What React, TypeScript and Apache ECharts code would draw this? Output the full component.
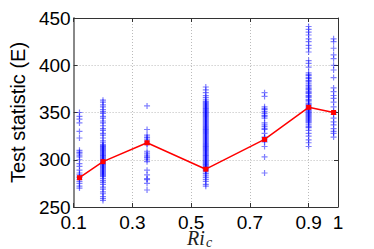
import React, { useEffect, useRef } from "react";
import * as echarts from "echarts";

const columnX = [0.12, 0.2, 0.35, 0.55, 0.75, 0.9, 0.985];

const ric012 = [350, 346, 343, 339, 330, 323, 310, 308, 307, 305, 303, 300, 296, 293, 289, 286, 284, 282, 281, 279, 277, 275, 272, 270];
const ric020 = [363, 361, 358, 356, 353, 351, 349, 346, 344, 341, 339, 336, 333, 331, 328, 326, 323, 320, 318, 316, 315, 314, 313, 312, 311, 310, 309, 308, 307, 306, 305, 304, 303, 302, 301, 300, 299, 298, 297, 296, 295, 294, 293, 292, 291, 290, 289, 288, 287, 286, 285, 284, 283, 282, 280, 278, 276, 274, 271, 269, 266, 264, 261, 259, 257];
const ric035 = [357, 332, 326, 324, 323, 321, 319, 317, 316, 309, 307, 305, 303, 302, 300, 298, 289, 284, 280, 279, 275, 268];
const ric055 = [377, 374, 371, 368, 366, 364, 362, 361, 360, 359, 358, 357, 356, 355, 354, 353, 352, 351, 350, 349, 348, 347, 346, 345, 344, 343, 342, 341, 340, 339, 338, 337, 336, 335, 334, 333, 332, 331, 330, 329, 328, 327, 326, 325, 324, 323, 322, 321, 320, 319, 318, 317, 316, 315, 314, 313, 312, 311, 310, 309, 308, 307, 306, 305, 304, 303, 302, 301, 300, 299, 298, 297, 296, 295, 294, 293, 292, 291, 290, 289, 288, 286, 285, 283, 281, 279, 277, 274, 272];
const ric075 = [371, 367, 356, 354, 353, 351, 349, 347, 346, 344, 339, 337, 335, 333, 332, 328, 324, 323, 321, 319, 314, 303, 286];
const ric090 = [441, 438, 435, 432, 428, 425, 421, 418, 414, 405, 402, 398, 392, 390, 389, 387, 386, 384, 383, 381, 379, 378, 376, 375, 374, 372, 371, 370, 368, 367, 366, 364, 363, 362, 360, 359, 358, 357, 356, 355, 354, 353, 352, 351, 350, 349, 348, 347, 346, 345, 344, 343, 342, 341, 340, 339, 337, 335, 334, 331, 328, 325, 321, 318, 314];
const ric098 = [428, 425, 418, 411, 407, 400, 395, 387, 376, 372, 368, 365, 361, 356, 351, 348, 344, 340, 337, 333, 330, 328, 324];

const meanValues = [281, 298, 318, 290, 321.5, 355.5, 350];

const xTicks = [0.1, 0.3, 0.5, 0.7, 0.9, 1];
const yTicks = [250, 300, 350, 400, 450];

const columns = [ric012, ric020, ric035, ric055, ric075, ric090, ric098];

const PLUS = "path://M4,0H6V4H10V6H6V10H4V6H0V4H4Z";

export default function App() {
  const ref = useRef<HTMLDivElement>(null);
  useEffect(() => {
    if (!ref.current) return;
    const chart = echarts.init(ref.current, null, { renderer: "svg" });
    const scatterData: number[][] = [];
    columns.forEach((vals, i) => vals.forEach((v) => scatterData.push([columnX[i], v])));
    const meanData = meanValues.map((v, i) => [columnX[i], v]);
    const font = "Liberation Sans";
    chart.setOption({
      animation: false,
      backgroundColor: "#fff",
      grid: { left: 63, right: 36, top: 18, bottom: 42, show: false },
      xAxis: [
        {
          type: "value",
          min: 0.1,
          max: 1,
          position: "bottom",
          axisLine: { show: true, lineStyle: { color: "#333", width: 1 } },
          axisTick: { show: true, inside: true, length: 4, customValues: xTicks, lineStyle: { color: "#333" } },
          axisLabel: {
            customValues: xTicks,
            showMinLabel: true,
            showMaxLabel: true,
            fontSize: 19,
            fontFamily: font,
            color: "#000",
            margin: 6,
            formatter: (v: number) => String(Math.round(v * 10) / 10),
          },
          splitLine: { show: true, lineStyle: { color: "#bbb", type: [1, 2], width: 1 } },
        },
        {
          type: "value",
          min: 0.1,
          max: 1,
          position: "top",
          axisLine: { show: true, lineStyle: { color: "#333", width: 1 } },
          axisTick: { show: true, inside: true, length: 4, customValues: xTicks, lineStyle: { color: "#333" } },
          axisLabel: { show: false },
          splitLine: { show: false },
        },
      ],
      yAxis: [
        {
          type: "value",
          min: 250,
          max: 450,
          interval: 50,
          name: "Test statistic (E)",
          nameLocation: "middle",
          nameGap: 41,
          nameTextStyle: { fontSize: 20, fontFamily: font, color: "#000" },
          axisLine: { show: true, lineStyle: { color: "#888", width: 2 } },
          axisTick: { show: true, inside: true, length: 4, lineStyle: { color: "#333" } },
          axisLabel: {
            fontSize: 19,
            fontFamily: font,
            color: "#000",
            margin: 3,
            padding: [6, 0, 0, 0],
            showMinLabel: true,
            showMaxLabel: true,
            formatter: (v: number) => (yTicks.includes(v) ? String(v) : ""),
          },
          splitLine: { show: true, lineStyle: { color: "#bbb", type: [1, 2], width: 1 } },
        },
        {
          type: "value",
          min: 250,
          max: 450,
          interval: 50,
          position: "right",
          axisLine: { show: true, lineStyle: { color: "#333", width: 1 } },
          axisTick: { show: true, inside: true, length: 4, lineStyle: { color: "#333" } },
          axisLabel: { show: false },
          splitLine: { show: false },
        },
      ],
      graphic: [
        {
          type: "text",
          left: 187,
          top: 228,
          style: { text: "Ri", font: 'italic 20px "Liberation Serif"', fill: "#222" },
        },
        {
          type: "text",
          left: 206,
          top: 235,
          style: { text: "c", font: 'italic 14px "Liberation Serif"', fill: "#222", lineHeight: 14 },
        },
      ],
      series: [
        {
          type: "scatter",
          data: scatterData,
          symbol: PLUS,
          symbolSize: 6,
          itemStyle: { color: "#0000ff", opacity: 0.5 },
          silent: true,
        },
        {
          type: "line",
          data: meanData,
          symbol: "rect",
          symbolSize: 5,
          lineStyle: { color: "#ff0000", width: 1.5 },
          itemStyle: { color: "#ff0000" },
          silent: true,
        },
      ],
    });
    return () => chart.dispose();
  }, []);
  return (
    <div
      ref={ref}
      style={{ position: "fixed", left: 0, top: 0, width: 374, height: 249, background: "#fff" }}
    />
  );
}
